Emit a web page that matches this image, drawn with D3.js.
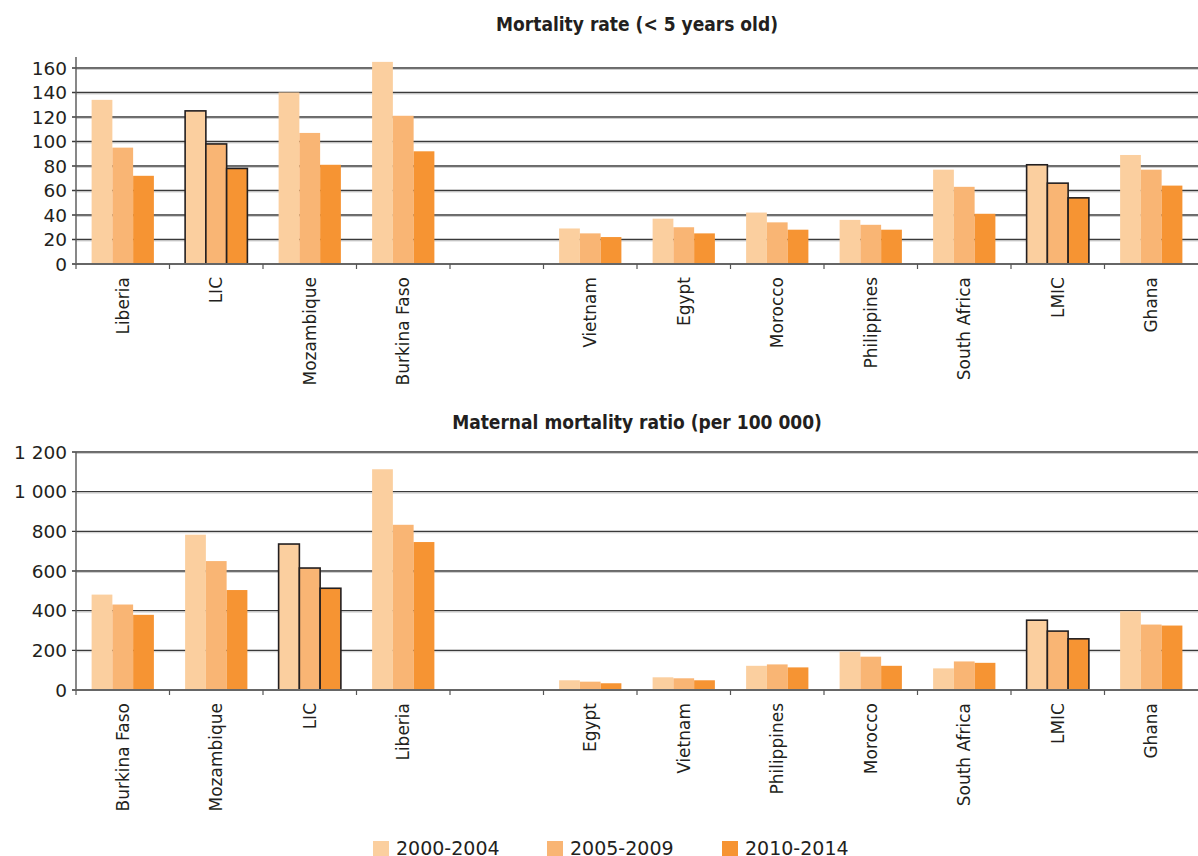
<!DOCTYPE html>
<html><head><meta charset="utf-8">
<script src="https://cdn.jsdelivr.net/npm/d3@7"></script>
<style>
html,body{margin:0;padding:0;background:#fff;}
svg{display:block;}
.tick-label{font-family:"DejaVu Sans",sans-serif;fill:#231f20;}
.title{font-family:"DejaVu Sans Condensed","DejaVu Sans",sans-serif;font-stretch:condensed;font-weight:bold;font-size:19px;fill:#231f20;}
</style>
</head><body>
<svg id="chart" width="1198" height="856"></svg>
<script>
const seriesNames = ["2000-2004","2005-2009","2010-2014"];
const colors = ["#FBCF9F","#F9B574","#F69433"];
const outlined = ["LIC","LMIC"];

// Chart 1: Mortality rate (< 5 years old)
const cats1 = ["Liberia","LIC","Mozambique","Burkina Faso","","Vietnam","Egypt","Morocco","Philippines","South Africa","LMIC","Ghana"];
const u5_2000 = [134,125,140,165,null,29,37,42,36,77,81,89];
const u5_2005 = [95,98,107,121,null,25,30,34,32,63,66,77];
const u5_2010 = [72,78,81,92,null,22,25,28,28,41,54,64];
const ticks1 = [0,20,40,60,80,100,120,140,160];

// Chart 2: Maternal mortality ratio (per 100 000)
const cats2 = ["Burkina Faso","Mozambique","LIC","Liberia","","Egypt","Vietnam","Philippines","Morocco","South Africa","LMIC","Ghana"];
const mm_2000 = [481,783,736,1113,null,49,64,122,194,109,352,397];
const mm_2005 = [431,650,615,833,null,42,59,129,168,144,297,330];
const mm_2010 = [379,504,513,746,null,34,49,114,122,137,258,325];
const ticks2 = [0,200,400,600,800,1000,1200];

const svg = d3.select("#chart");
const fmtSpace = v => d3.format(",")(v).replace(/,/g," ");

function drawChart(cfg){
  const g = svg.append("g");
  const left = 76, right = 1198;
  const keys = cfg.cats.map((c,i)=> c===""? "__gap"+i : c);
  const x0 = d3.scaleBand().domain(keys).range([left,right]).padding(0);
  const step = x0.step();
  const x1 = d3.scaleBand().domain(seriesNames).range([step*0.167, step*0.833]).padding(0);
  const y = d3.scaleLinear().domain([0,cfg.max]).range([cfg.base,cfg.top]);

  g.append("text").attr("class","title").attr("x",637).attr("y",cfg.titleY)
    .attr("text-anchor","middle").text(cfg.title);

  g.selectAll(".grid").data(cfg.ticks.filter(t=>t>0)).join("line")
    .attr("x1",left-4).attr("x2",right).attr("y1",d=>y(d)).attr("y2",d=>y(d))
    .attr("stroke","#3a3a3a").attr("stroke-width",1.4);
  g.selectAll(".grid2").data(cfg.ticks.filter(t=>t>0)).join("line")
    .attr("x1",left).attr("x2",right).attr("y1",d=>y(d)+1.4).attr("y2",d=>y(d)+1.4)
    .attr("stroke","#bbb").attr("stroke-width",0.8);

  g.selectAll(".yl").data(cfg.ticks).join("text").attr("class","tick-label")
    .attr("x",left-9).attr("y",d=>y(d)).attr("dy","0.36em").attr("text-anchor","end")
    .style("font-size","18.5px").text(d=>cfg.fmt(d));

  const vals = [cfg.s0,cfg.s1,cfg.s2];
  keys.forEach((k,i)=>{
    if(k.startsWith("__gap")) return;
    const isOut = outlined.includes(k);
    seriesNames.forEach((s,j)=>{
      const v = vals[j][i];
      g.append("rect")
        .attr("x",x0(k)+x1(s)).attr("width",x1.bandwidth())
        .attr("y",y(v)).attr("height",cfg.base-y(v))
        .attr("fill",colors[j])
        .attr("stroke",isOut?"#231f20":"none").attr("stroke-width",isOut?1.6:0);
    });
  });

  g.append("line").attr("x1",left).attr("x2",left).attr("y1",cfg.axisTop).attr("y2",cfg.base)
    .attr("stroke","#555").attr("stroke-width",1.4);
  g.append("line").attr("x1",left-4).attr("x2",right).attr("y1",cfg.base).attr("y2",cfg.base)
    .attr("stroke","#666").attr("stroke-width",2);
  const bounds = keys.map(k=>x0(k));
  g.selectAll(".xt").data(bounds).join("line")
    .attr("x1",d=>d).attr("x2",d=>d).attr("y1",cfg.base).attr("y2",cfg.base+5)
    .attr("stroke","#555").attr("stroke-width",1.2);

  keys.forEach((k,i)=>{
    if(k.startsWith("__gap")) return;
    const cx = x0(k)+step/2;
    g.append("text").attr("class","tick-label")
      .attr("transform",`translate(${cx+6},${cfg.base+13}) rotate(-90)`)
      .attr("text-anchor","end").style("font-size","17px").text(k);
  });
}

drawChart({title:"Mortality rate (< 5 years old)",titleY:31,cats:cats1,s0:u5_2000,s1:u5_2005,s2:u5_2010,
  max:169,ticks:ticks1,base:264,top:264-196*169/160,axisTop:57,fmt:d=>d});
drawChart({title:"Maternal mortality ratio (per 100 000)",titleY:429,cats:cats2,s0:mm_2000,s1:mm_2005,s2:mm_2010,
  max:1200,ticks:ticks2,base:690,top:452,axisTop:452,fmt:fmtSpace});

const lg = svg.append("g");
const lx = [373,547,722];
seriesNames.forEach((s,i)=>{
  lg.append("rect").attr("x",lx[i]).attr("y",841).attr("width",16).attr("height",15).attr("fill",colors[i]);
  lg.append("text").attr("class","tick-label").attr("x",lx[i]+23).attr("y",855)
    .style("font-size","19px").text(s);
});
</script>
</body></html>
